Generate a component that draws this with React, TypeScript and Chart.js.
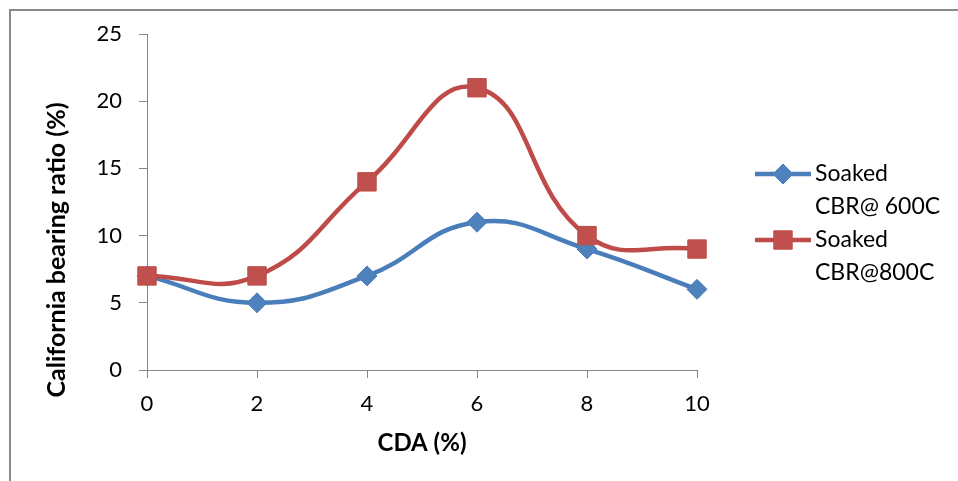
import React, { useEffect, useRef } from 'react';
import { Chart, registerables } from 'chart.js';

Chart.register(...registerables);

// ---- data ----
const cdaPercent = [0, 2, 4, 6, 8, 10];
const soakedCbr600 = [7, 5, 7, 11, 9, 6];
const soakedCbr800 = [7, 7, 14, 21, 10, 9];
const seriesLabels = [
  ['Soaked', 'CBR@ 600C'],
  ['Soaked', 'CBR@800C'],
];
const xTitle = 'CDA (%)';
const yTitle = 'California bearing ratio (%)';
const yMin = 0;
const yMax = 25;
const yStep = 5;
const xMin = 0;
const xMax = 10;
const xStep = 2;

// ---- styles ----
const FONT = 'Lato, "Open Sans", sans-serif';
const BLUE_LINE = '#4A7EBB';
const BLUE_FILL = '#4F81BD';
const RED_LINE = '#BE4B48';
const RED_FILL = '#C0504D';
const AXIS = '#868686';

function drawMarker(ctx: CanvasRenderingContext2D, style: string, x: number, y: number, r: number, fill: string, stroke: string) {
  ctx.save();
  ctx.beginPath();
  if (style === 'rectRot') {
    ctx.moveTo(x - r, y);
    ctx.lineTo(x, y - r);
    ctx.lineTo(x + r, y);
    ctx.lineTo(x, y + r);
    ctx.closePath();
  } else {
    const s = r * Math.SQRT1_2;
    ctx.rect(x - s, y - s, 2 * s, 2 * s);
  }
  ctx.fillStyle = fill;
  ctx.fill();
  ctx.strokeStyle = stroke;
  ctx.lineWidth = 1;
  ctx.stroke();
  ctx.restore();
}

const framePlugin = {
  id: 'frame',
  beforeDraw(chart: any) {
    const ctx = chart.ctx as CanvasRenderingContext2D;
    ctx.save();
    ctx.fillStyle = '#ffffff';
    ctx.fillRect(0, 0, chart.width, chart.height);
    ctx.strokeStyle = '#8a8a8a';
    ctx.lineWidth = 2;
    ctx.strokeRect(10, 10, chart.width + 40, chart.height + 40);
    ctx.restore();
  },
};

const yTitlePlugin = {
  id: 'yTitle',
  afterDraw(chart: any) {
    const ctx = chart.ctx as CanvasRenderingContext2D;
    ctx.save();
    ctx.translate(57, 250);
    ctx.rotate(-Math.PI / 2);
    ctx.fillStyle = '#000';
    ctx.font = `bold 25px ${FONT}`;
    ctx.textAlign = 'center';
    ctx.textBaseline = 'middle';
    ctx.fillText(yTitle, 0, 0);
    ctx.restore();
  },
};

const legendPlugin = {
  id: 'sideLegend',
  afterDraw(chart: any) {
    const ctx = chart.ctx as CanvasRenderingContext2D;
    const items = [
      { ds: chart.data.datasets[0], y: 174 },
      { ds: chart.data.datasets[1], y: 240 },
    ];
    ctx.save();
    items.forEach((it, i) => {
      const ds = it.ds;
      ctx.strokeStyle = ds.borderColor;
      ctx.lineWidth = ds.borderWidth;
      ctx.lineCap = 'butt';
      ctx.beginPath();
      ctx.moveTo(755, it.y);
      ctx.lineTo(811, it.y);
      ctx.stroke();
      drawMarker(ctx, ds.pointStyle, 783, it.y, ds.pointRadius, ds.pointBackgroundColor, ds.pointBorderColor);
      ctx.fillStyle = '#000';
      ctx.font = `23px ${FONT}`;
      ctx.textAlign = 'left';
      ctx.textBaseline = 'middle';
      seriesLabels[i].forEach((line, j) => {
        ctx.fillText(line, 815, it.y + j * 33);
      });
    });
    ctx.restore();
  },
};

export default function App() {
  const ref = useRef<HTMLCanvasElement | null>(null);

  useEffect(() => {
    if (!ref.current) return;
    const mk = (ys: number[]) => cdaPercent.map((x, i) => ({ x, y: ys[i] }));
    const chart = new Chart(ref.current, {
      type: 'line',
      data: {
        datasets: [
          {
            label: seriesLabels[0].join(' '),
            data: mk(soakedCbr600),
            borderColor: BLUE_LINE,
            borderWidth: 4.5,
            pointStyle: 'rectRot',
            pointRadius: 10,
            pointHoverRadius: 10,
            pointBackgroundColor: BLUE_FILL,
            pointBorderColor: BLUE_LINE,
            pointBorderWidth: 1,
            tension: 0.45,
            fill: false,
            clip: false,
            order: 1,
          } as any,
          {
            label: seriesLabels[1].join(' '),
            data: mk(soakedCbr800),
            borderColor: RED_LINE,
            borderWidth: 4.5,
            pointStyle: 'rect',
            pointRadius: 13,
            pointHoverRadius: 13,
            pointBackgroundColor: RED_FILL,
            pointBorderColor: RED_LINE,
            pointBorderWidth: 1,
            tension: 0.45,
            fill: false,
            clip: false,
            order: 0,
          } as any,
        ],
      },
      options: {
        responsive: false,
        animation: false,
        events: [],
        layout: { padding: { left: 38, top: 34, right: 261, bottom: 19 } },
        plugins: {
          legend: { display: false },
          tooltip: { enabled: false },
        },
        scales: {
          x: {
            type: 'linear',
            min: xMin,
            max: xMax,
            afterFit: (s: any) => { s.height = 92; },
            ticks: {
              stepSize: xStep,
              color: '#000',
              font: { family: FONT, size: 22 },
              padding: 13,
              maxRotation: 0,
            },
            grid: { drawOnChartArea: false, drawTicks: true, tickLength: 8, color: AXIS },
            border: { color: AXIS, width: 1 },
            title: {
              display: true,
              text: xTitle,
              color: '#000',
              font: { family: FONT, size: 24, weight: 'bold' },
            },
          },
          y: {
            type: 'linear',
            min: yMin,
            max: yMax,
            afterFit: (s: any) => { s.width = 109; },
            ticks: {
              stepSize: yStep,
              color: '#000',
              font: { family: FONT, size: 22 },
              padding: 17,
            },
            grid: { drawOnChartArea: false, drawTicks: true, tickLength: 8, color: AXIS },
            border: { color: AXIS, width: 1 },
            title: { display: false },
          },
        },
      },
      plugins: [framePlugin, yTitlePlugin, legendPlugin],
    });
    return () => chart.destroy();
  }, []);

  return (
    <div style={{ position: 'absolute', left: 0, top: 0, width: 958, height: 481, background: '#fff' }}>
      <canvas ref={ref} width={958} height={481} style={{ display: 'block', width: 958, height: 481 }} />
    </div>
  );
}
